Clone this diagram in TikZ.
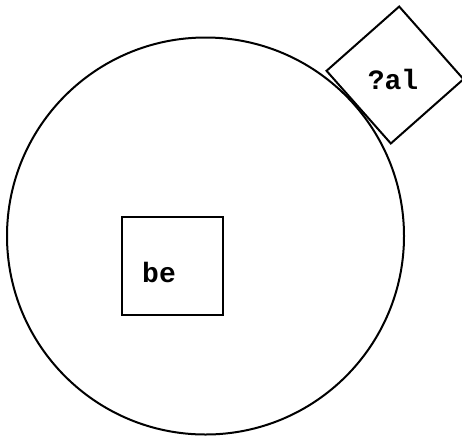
\documentclass[tikz,border=0pt]{standalone}
\usepackage{fontspec}
\setmonofont{Liberation Mono}
\begin{document}
\begin{tikzpicture}[x=1pt,y=-1pt,
  outline/.style={draw=black,line width=2pt},
  lbl/.style={font=\ttfamily\bfseries\fontsize{28}{30}\selectfont,inner sep=0pt}]
\useasboundingbox (0,0) rectangle (462,437);
\fill[white] (0,0) rectangle (462,437);
\node[outline,circle,minimum size=397pt,inner sep=0pt] (world) at (205.5,236) {};
\node[outline,rectangle,minimum width=101pt,minimum height=98pt,inner sep=0pt] (bebox) at (172.5,266) {};
\node[lbl] (betext) at (159,272) {be};
\node[outline,rectangle,minimum size=97pt,inner sep=0pt,rotate=41.5] (albox) at (395,75) {};
\node[lbl] (altext) at (393,79) {?al};
\end{tikzpicture}
\end{document}
